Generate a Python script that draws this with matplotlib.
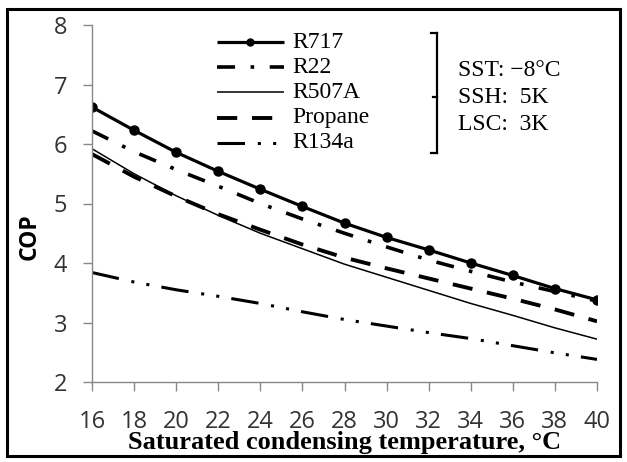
import matplotlib
matplotlib.use("Agg")
import matplotlib.pyplot as plt
from matplotlib.lines import Line2D
from matplotlib.patches import Rectangle

plt.rcParams["font.family"] = ["Open Sans", "DejaVu Sans"]

temps = [16, 18, 20, 22, 24, 26, 28, 30, 32, 34, 36, 38, 40]
cop_r717 = [6.62, 6.23, 5.86, 5.54, 5.24, 4.95, 4.67, 4.43, 4.22, 4.00, 3.79, 3.57, 3.38]
cop_r22 = [6.22, 5.87, 5.57, 5.29, 5.00, 4.74, 4.50, 4.27, 4.05, 3.86, 3.68, 3.52, 3.36]
cop_r507a = [5.92, 5.50, 5.13, 4.80, 4.50, 4.24, 3.98, 3.76, 3.54, 3.32, 3.12, 2.91, 2.72]
cop_propane = [5.83, 5.45, 5.12, 4.82, 4.56, 4.31, 4.09, 3.91, 3.74, 3.57, 3.40, 3.22, 3.02]
cop_r134a = [3.84, 3.68, 3.55, 3.44, 3.32, 3.18, 3.05, 2.94, 2.83, 2.73, 2.61, 2.49, 2.38]
labels = ["R717", "R22", "R507A", "Propane", "R134a"]
xticks = list(range(16, 41, 2))
yticks = [2, 3, 4, 5, 6, 7, 8]
notes = ["SST: \u22128\u00b0C", "SSH:  5K", "LSC:  3K"]

W, H = 627, 462
fig = plt.figure(figsize=(W / 100, H / 100), dpi=100)
ax = fig.add_axes([92 / W, 1 - 382 / H, (597 - 92) / W, (382 - 25) / H])

def fx(px):
    return px / W

def fy(py):
    return 1 - py / H

styles = [
    dict(color="black", lw=2.3, marker="o", markersize=6.5),
    dict(color="black", lw=2.6, linestyle=(0, (5.0, 4.3, 1.0, 4.3))),
    dict(color="black", lw=1.1),
    dict(color="black", lw=2.8, linestyle=(0, (5.2, 3.8))),
    dict(color="black", lw=2.2, linestyle=(0, (9.0, 4.2, 1.0, 4.0, 1.0, 4.0))),
]
series = [cop_r717, cop_r22, cop_r507a, cop_propane, cop_r134a]
for lab, ys, st in zip(labels, series, styles):
    ax.plot(temps, ys, label=lab, solid_capstyle="butt", dash_capstyle="butt", **st)

ax.set_xlim(16, 40)
ax.set_ylim(2, 8)
ax.set_xticks(xticks)
ax.set_yticks(yticks)
for s in ["top", "right"]:
    ax.spines[s].set_visible(False)
for s in ["left", "bottom"]:
    ax.spines[s].set_color("#888888")
    ax.spines[s].set_linewidth(1.0)
ax.tick_params(axis="both", colors="#888888", length=6.3, width=1.0, labelcolor="#333333",
               labelsize=17)
ax.tick_params(axis="x", pad=13.5)
ax.tick_params(axis="y", pad=11.5)

ax.set_ylabel("COP", fontsize=16.5, fontweight="bold", va="center")
ax.yaxis.set_label_coords((30 - 92) / 505, (382 - 237) / 357)
ax.set_xlabel("Saturated condensing temperature, \u00b0C", fontsize=19, fontweight="bold",
              family="Liberation Serif", va="center")
ax.xaxis.set_label_coords(0.5, -(443 - 382) / 357)

# legend (drawn by hand for exact spacing)
leg_styles = [
    dict(color="black", lw=2.3, marker="o", markersize=5, markevery=[1]),
    dict(color="black", lw=2.6, linestyle=(0, (5.0, 4.3, 1.0, 4.3))),
    dict(color="black", lw=1.1),
    dict(color="black", lw=2.8, linestyle=(0, (5.2, 3.8))),
    dict(color="black", lw=2.2, linestyle=(0, (9.0, 4.2, 1.0, 4.0, 1.0, 4.0))),
]
for i, (lab, st) in enumerate(zip(labels, leg_styles)):
    yy = 42 + 25.2 * i
    fig.add_artist(Line2D([fx(217), fx(250.5), fx(284)], [fy(yy)] * 3,
                          solid_capstyle="butt", dash_capstyle="butt", **st))
    fig.text(fx(292), fy(yy), lab, family="Liberation Serif", fontsize=17,
             va="center", ha="left")

# bracket
bx = 437
for xs, ys in [([bx, bx], [33, 153]), ([bx - 6, bx], [33, 33]),
               ([bx - 6, bx], [153, 153]), ([bx - 4, bx], [97, 97])]:
    fig.add_artist(Line2D([fx(v) for v in xs], [fy(v) for v in ys], color="black", lw=1.6))
for i, txt in enumerate(notes):
    fig.text(fx(458), fy(70 + 27.5 * i), txt, family="Liberation Serif", fontsize=17,
             va="center", ha="left")

fig.add_artist(Rectangle((fx(7), fy(456)), fx(620) - fx(7), fy(9) - fy(456),
                         fill=False, edgecolor="black", lw=2.2, transform=fig.transFigure))

fig.savefig("out.png", dpi=100)
